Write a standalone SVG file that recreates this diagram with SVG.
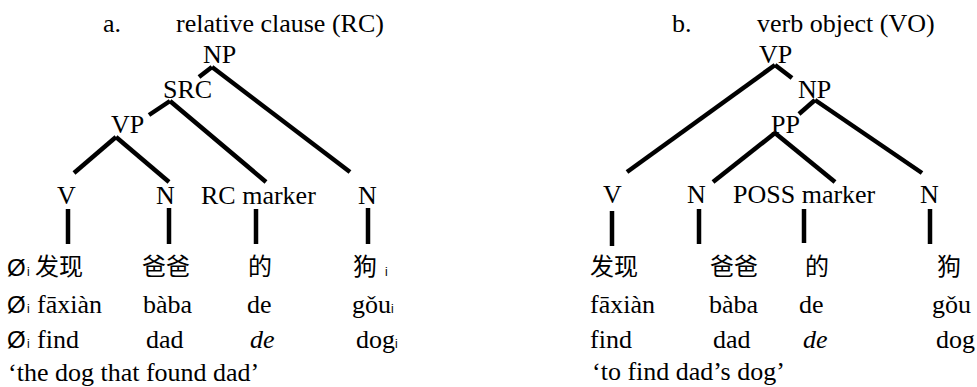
<svg xmlns="http://www.w3.org/2000/svg" width="977" height="387" viewBox="0 0 977 387">
<style>
.t{font-size:26px;fill:#000}
.it{font-style:italic}
.cjk{font-size:24px;fill:#000}
.null{font-size:24px;fill:#000}
.sub{font-size:12px;fill:#000}
.e{stroke:#000;stroke-width:4.5;fill:none}
</style>
<rect width="977" height="387" fill="#fff"/>
<g id="connectors">
  <line class="e" x1="212" y1="67" x2="199" y2="77"/>
  <line class="e" x1="212" y1="67" x2="350" y2="172"/>
  <line class="e" x1="170" y1="101" x2="149" y2="115"/>
  <line class="e" x1="170" y1="101" x2="266" y2="182"/>
  <line class="e" x1="116" y1="137" x2="74" y2="173"/>
  <line class="e" x1="116" y1="137" x2="169" y2="182"/>
  <line class="e" x1="68" y1="209" x2="68" y2="244"/>
  <line class="e" x1="169" y1="208" x2="169" y2="244"/>
  <line class="e" x1="256" y1="209" x2="256" y2="244"/>
  <line class="e" x1="368" y1="208" x2="368" y2="244"/>
  <line class="e" x1="775" y1="65" x2="627" y2="172"/>
  <line class="e" x1="775" y1="65" x2="792" y2="78"/>
  <line class="e" x1="815" y1="100" x2="799" y2="114"/>
  <line class="e" x1="815" y1="100" x2="922" y2="173"/>
  <line class="e" x1="775" y1="133" x2="713" y2="182"/>
  <line class="e" x1="775" y1="133" x2="835" y2="182"/>
  <line class="e" x1="612" y1="211" x2="612" y2="246"/>
  <line class="e" x1="699" y1="209" x2="699" y2="244"/>
  <line class="e" x1="804" y1="209" x2="804" y2="243"/>
  <line class="e" x1="930" y1="209" x2="930" y2="244"/>
</g>
<g font-family="'Liberation Serif', 'Times New Roman', 'DejaVu Serif', serif">
<g id="a-title"><text class="t" x="103" y="32">a.</text><text class="t" x="176" y="32">relative clause (RC)</text></g>
<g id="a-NP"><text class="t" x="203" y="63">NP</text></g>
<g id="a-SRC"><text class="t" x="163" y="98">SRC</text></g>
<g id="a-VP"><text class="t" x="111" y="133">VP</text></g>
<g id="a-V"><text class="t" x="57" y="204">V</text></g>
<g id="a-N1"><text class="t" x="156" y="204">N</text></g>
<g id="a-RC"><text class="t" x="201" y="204">RC marker</text></g>
<g id="a-N2"><text class="t" x="358" y="204">N</text></g>
<g id="a-w1">
  <text class="null" font-family="'Liberation Sans', Arial, sans-serif" x="7" y="276">Ø</text><text class="sub" font-family="'Liberation Sans', Arial, sans-serif" x="27" y="276">i</text><text class="cjk" font-family="'Noto Sans CJK SC', sans-serif" x="35" y="275">发现</text>
  <text class="null" font-family="'Liberation Sans', Arial, sans-serif" x="7" y="313">Ø</text><text class="sub" font-family="'Liberation Sans', Arial, sans-serif" x="27" y="313">i</text><text class="t" x="37" y="313">fāxiàn</text>
  <text class="null" font-family="'Liberation Sans', Arial, sans-serif" x="7" y="348">Ø</text><text class="sub" font-family="'Liberation Sans', Arial, sans-serif" x="27" y="348">i</text><text class="t" x="37" y="348">find</text>
</g>
<g id="a-w2">
  <text class="cjk" font-family="'Noto Sans CJK SC', sans-serif" x="142" y="275">爸爸</text>
  <text class="t" x="143" y="313">bàba</text>
  <text class="t" x="146" y="348">dad</text>
</g>
<g id="a-w3">
  <text class="cjk" font-family="'Noto Sans CJK SC', sans-serif" x="248" y="275">的</text>
  <text class="t" x="247" y="313">de</text>
  <text class="t it" x="250" y="348">de</text>
</g>
<g id="a-w4">
  <text class="cjk" font-family="'Noto Sans CJK SC', sans-serif" x="353" y="275">狗</text><text class="sub" font-family="'Liberation Sans', Arial, sans-serif" x="385" y="276">i</text>
  <text class="t" x="352" y="313">gǒu</text><text class="sub" font-family="'Liberation Sans', Arial, sans-serif" x="391" y="313">i</text>
  <text class="t" x="356" y="348">dog</text><text class="sub" font-family="'Liberation Sans', Arial, sans-serif" x="395" y="348">i</text>
</g>
<g id="a-gloss"><text class="t" x="8" y="381">‘the dog that found dad’</text></g>
<g id="b-title"><text class="t" x="672" y="32">b.</text><text class="t" x="757" y="32">verb object (VO)</text></g>
<g id="b-VP"><text class="t" x="759" y="63">VP</text></g>
<g id="b-NP"><text class="t" x="798" y="98">NP</text></g>
<g id="b-PP"><text class="t" x="771" y="133">PP</text></g>
<g id="b-V"><text class="t" x="603" y="203">V</text></g>
<g id="b-N1"><text class="t" x="687" y="203">N</text></g>
<g id="b-POSS"><text class="t" x="733" y="203">POSS marker</text></g>
<g id="b-N2"><text class="t" x="920" y="203">N</text></g>
<g id="b-w1">
  <text class="cjk" font-family="'Noto Sans CJK SC', sans-serif" x="590" y="275">发现</text>
  <text class="t" x="590" y="313">fāxiàn</text>
  <text class="t" x="590" y="348">find</text>
</g>
<g id="b-w2">
  <text class="cjk" font-family="'Noto Sans CJK SC', sans-serif" x="710" y="275">爸爸</text>
  <text class="t" x="709" y="313">bàba</text>
  <text class="t" x="713" y="348">dad</text>
</g>
<g id="b-w3">
  <text class="cjk" font-family="'Noto Sans CJK SC', sans-serif" x="805" y="275">的</text>
  <text class="t" x="799" y="313">de</text>
  <text class="t it" x="803" y="348">de</text>
</g>
<g id="b-w4">
  <text class="cjk" font-family="'Noto Sans CJK SC', sans-serif" x="937" y="275">狗</text>
  <text class="t" x="932" y="313">gǒu</text>
  <text class="t" x="936" y="348">dog</text>
</g>
<g id="b-gloss"><text class="t" x="592" y="380">‘to find dad’s dog’</text></g>
</g>
</svg>
